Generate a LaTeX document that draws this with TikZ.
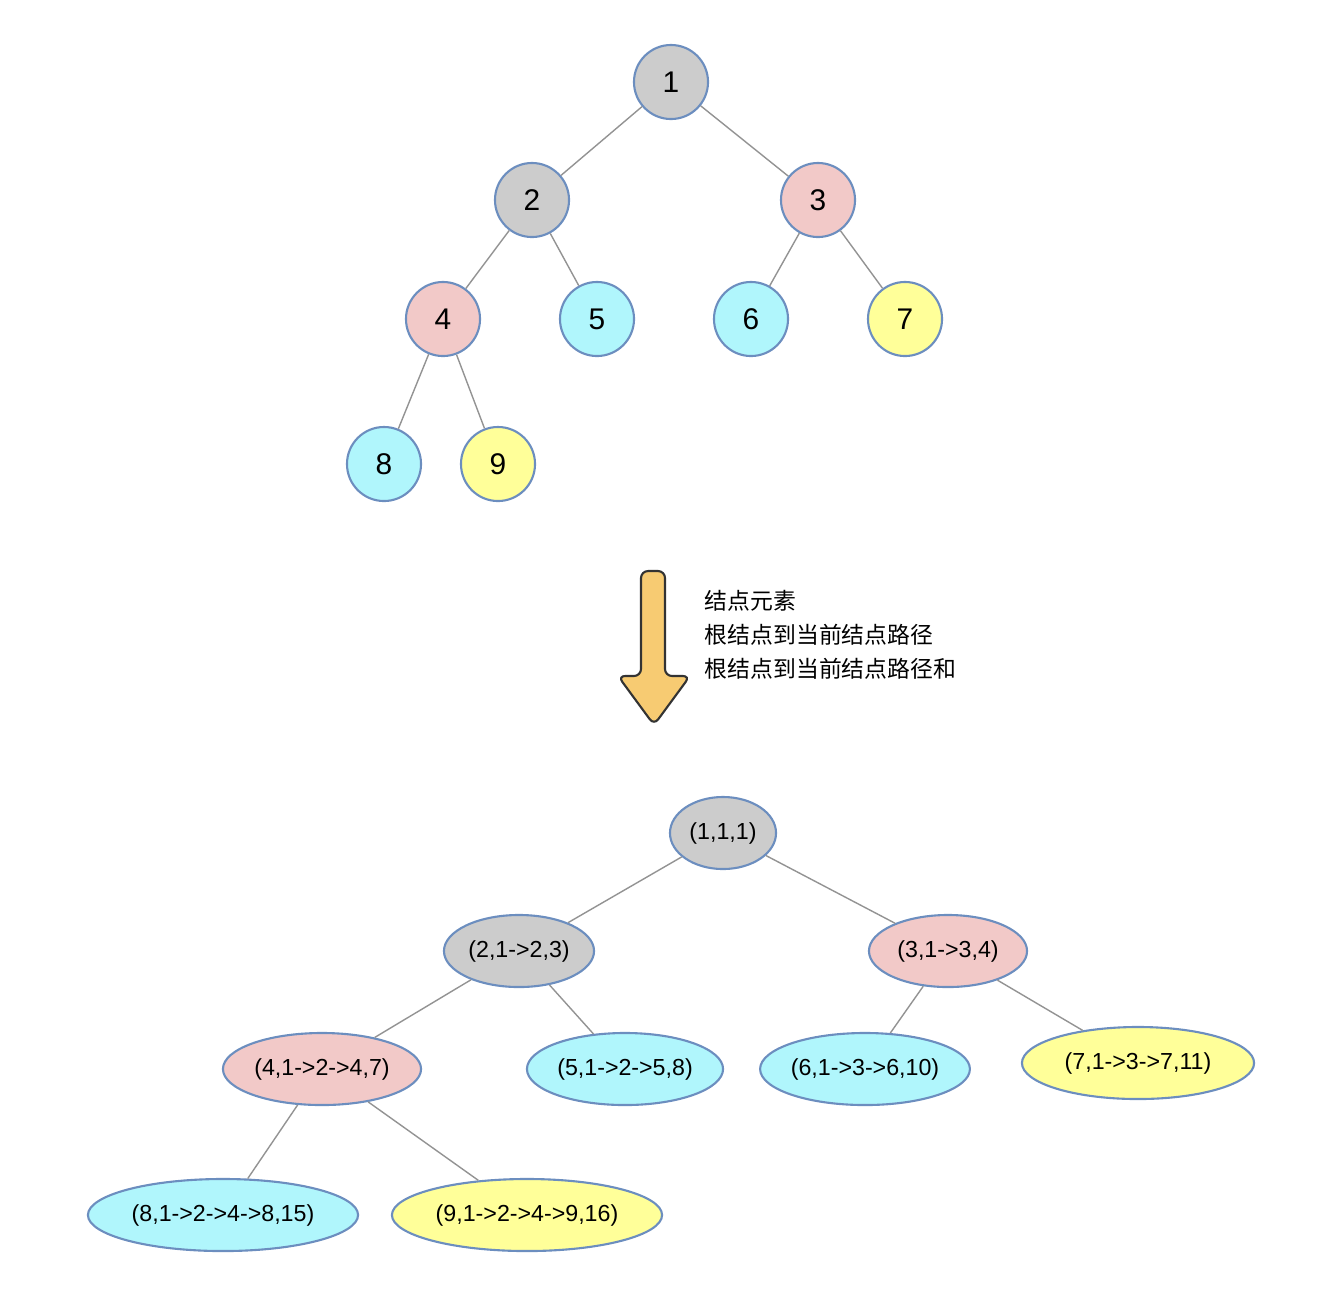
\documentclass[tikz,border=0pt]{standalone}
\usepackage{fontspec}
\setmainfont{Liberation Sans}
\newfontfamily\cjkfont{Noto Sans CJK SC}
\usepackage{xcolor}
\usetikzlibrary{shapes.geometric}

\definecolor{nodegray}{HTML}{CCCCCC}
\definecolor{nodepink}{HTML}{F2C9C8}
\definecolor{nodecyan}{HTML}{B0F6FC}
\definecolor{nodeyellow}{HTML}{FFFF99}
\definecolor{rim}{HTML}{6C8EBF}
\definecolor{arrowfill}{HTML}{F7CB72}

\begin{document}
\begin{tikzpicture}[
  x=0.01cm, y=-0.01cm,
  circ/.style={circle, draw=rim, line width=0.6pt, minimum size=0.74cm, inner sep=0pt, font=\fontsize{8.5}{10}\selectfont},
  oval/.style={ellipse, draw=rim, line width=0.6pt, minimum height=0.72cm, inner sep=0pt, font=\fontsize{6.6}{8}\selectfont},
  edge/.style={draw=gray!85, line width=0.4pt},
]
\useasboundingbox (0,0) rectangle (1334,1290);
% original tree
\node[circ, fill=nodegray] (n1) at (671,82) {1};
\node[circ, fill=nodegray] (n2) at (532,200) {2};
\node[circ, fill=nodepink] (n3) at (818,200) {3};
\node[circ, fill=nodepink] (n4) at (443,319) {4};
\node[circ, fill=nodecyan] (n5) at (597,319) {5};
\node[circ, fill=nodecyan] (n6) at (751,319) {6};
\node[circ, fill=nodeyellow] (n7) at (905,319) {7};
\node[circ, fill=nodecyan] (n8) at (384,464) {8};
\node[circ, fill=nodeyellow] (n9) at (498,464) {9};
\draw[edge] (n1) -- (n2);
\draw[edge] (n1) -- (n3);
\draw[edge] (n2) -- (n4);
\draw[edge] (n2) -- (n5);
\draw[edge] (n3) -- (n6);
\draw[edge] (n3) -- (n7);
\draw[edge] (n4) -- (n8);
\draw[edge] (n4) -- (n9);
% transform arrow
\draw[line width=0.6pt, draw=black!80, fill=arrowfill, rounded corners=2pt]
  (641,571) -- (665,571) -- (665,676) -- (690,676) -- (654,725) -- (618,676) -- (641,676) -- cycle;
\node[anchor=west, align=left, inner sep=0pt, font=\cjkfont\fontsize{6.5}{9.6}\selectfont] (legend) at (704,635)
  {结点元素\\根结点到当前结点路径\\根结点到当前结点路径和};
% path tree
\node[oval, fill=nodegray, minimum width=1.06cm] (p1) at (723,833) {(1,1,1)};
\node[oval, fill=nodegray, minimum width=1.50cm] (p2) at (519,951) {(2,1->2,3)};
\node[oval, fill=nodepink, minimum width=1.58cm] (p3) at (948,951) {(3,1->3,4)};
\node[oval, fill=nodepink, minimum width=1.98cm] (p4) at (322,1069) {(4,1->2->4,7)};
\node[oval, fill=nodecyan, minimum width=1.96cm] (p5) at (625,1069) {(5,1->2->5,8)};
\node[oval, fill=nodecyan, minimum width=2.08cm] (p6) at (865,1069) {(6,1->3->6,10)};
\node[oval, fill=nodeyellow, minimum width=2.32cm] (p7) at (1138,1063) {(7,1->3->7,11)};
\node[oval, fill=nodecyan, minimum width=2.70cm] (p8) at (223,1215) {(8,1->2->4->8,15)};
\node[oval, fill=nodeyellow, minimum width=2.70cm] (p9) at (527,1215) {(9,1->2->4->9,16)};
\draw[edge] (p1) -- (p2);
\draw[edge] (p1) -- (p3);
\draw[edge] (p2) -- (p4);
\draw[edge] (p2) -- (p5);
\draw[edge] (p3) -- (p6);
\draw[edge] (p3) -- (p7);
\draw[edge] (p4) -- (p8);
\draw[edge] (p4) -- (p9);
\end{tikzpicture}
\end{document}
